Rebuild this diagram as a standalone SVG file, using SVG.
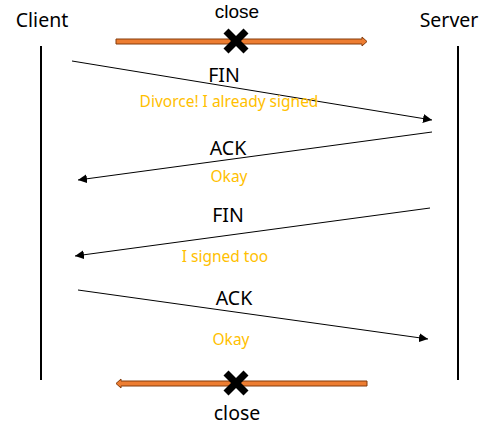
<svg xmlns="http://www.w3.org/2000/svg" width="504" height="436" viewBox="0 0 504 436">
<style>
.t{font-family:"Noto Sans","Liberation Sans",sans-serif;fill:#000;text-anchor:middle}
.big{font-size:19.5px}
.o{font-family:"Noto Sans","Liberation Sans",sans-serif;fill:#FFC000;font-size:15.5px;text-anchor:middle}
.msg{stroke:#000;stroke-width:1;fill:none;marker-end:url(#ah)}
.life{stroke:#000;stroke-width:2}
.blk{fill:#ED7D31;stroke:#843C0C;stroke-width:1}
.x{stroke:#000;stroke-width:7;stroke-linecap:butt}
</style>
<defs>
<marker id="ah" viewBox="0 0 10 10" refX="10" refY="5" markerWidth="9" markerHeight="9" markerUnits="userSpaceOnUse" orient="auto">
<path d="M0,0 L10,5 L0,10 Z" fill="#000"/>
</marker>
</defs>
<g id="client">
<text class="t big" x="42" y="27">Client</text>
<line class="life" x1="41" y1="46" x2="41" y2="380"/>
</g>
<g id="server">
<text class="t big" x="449" y="27">Server</text>
<line class="life" x1="458" y1="46" x2="458" y2="380"/>
</g>
<g id="close-top">
<text style="font-family:'Liberation Sans',sans-serif;font-size:19px;text-anchor:middle;fill:#000" x="237" y="18">close</text>
<polygon class="blk" points="116,39 362,39 362,37 367,41.5 362,46 362,44 116,44"/>
<line class="x" x1="226" y1="31" x2="246" y2="51"/>
<line class="x" x1="246" y1="31" x2="226" y2="51"/>
</g>
<g id="close-bottom">
<text class="t big" x="237" y="420">close</text>
<polygon class="blk" points="367,381 121,381 121,379 116,383.5 121,388 121,386 367,386"/>
<line class="x" x1="226" y1="373" x2="246" y2="393"/>
<line class="x" x1="246" y1="373" x2="226" y2="393"/>
</g>
<g id="connectors">
<line class="msg" x1="72" y1="61" x2="432" y2="120"/>
<line class="msg" x1="432" y1="132" x2="78" y2="180"/>
<line class="msg" x1="430" y1="208" x2="75" y2="256"/>
<line class="msg" x1="78" y1="290" x2="428" y2="339"/>
</g>
<g id="labels">
<text class="t big" x="224" y="82">FIN</text>
<text class="o" x="229" y="107">Divorce! I already signed</text>
<text class="t big" x="228" y="155">ACK</text>
<text class="o" x="229" y="182">Okay</text>
<text class="t big" x="228" y="222">FIN</text>
<text class="o" x="225" y="262">I signed too</text>
<text class="t big" x="234" y="305">ACK</text>
<text class="o" x="231" y="345">Okay</text>
</g>
</svg>
